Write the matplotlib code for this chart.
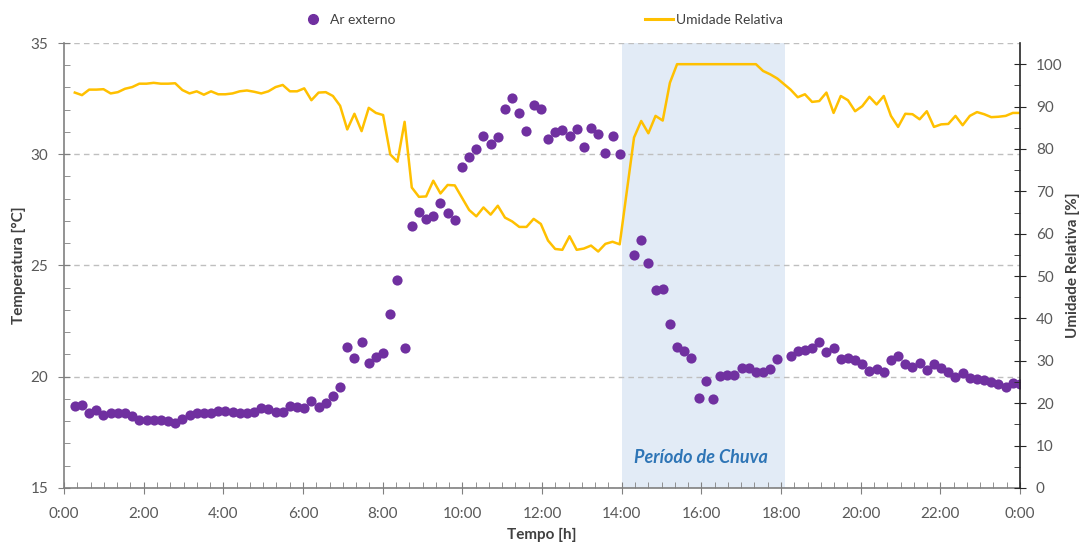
import matplotlib
matplotlib.use("Agg")
import matplotlib.pyplot as plt
from matplotlib.lines import Line2D

plt.rcParams['font.family'] = ['Lato', 'DejaVu Sans']

# sample times [h] (three runs of readings, with small gaps near 14:00 and 18:00)
tempo = [0.27, 0.45, 0.63, 0.81, 0.99, 1.17, 1.35, 1.53, 1.71, 1.89,
         2.07, 2.25, 2.43, 2.61, 2.79, 2.97, 3.15, 3.33, 3.51, 3.69,
         3.87, 4.05, 4.23, 4.41, 4.59, 4.77, 4.95, 5.13, 5.31, 5.49,
         5.67, 5.85, 6.03, 6.21, 6.39, 6.57, 6.75, 6.93, 7.11, 7.29,
         7.47, 7.65, 7.83, 8.01, 8.19, 8.37, 8.55, 8.73, 8.91, 9.09,
         9.27, 9.45, 9.63, 9.81, 9.99, 10.17, 10.35, 10.53, 10.71, 10.89,
         11.07, 11.25, 11.43, 11.61, 11.79, 11.97, 12.15, 12.33, 12.51, 12.69,
         12.87, 13.05, 13.23, 13.41, 13.59, 13.77, 13.95,
         14.31, 14.49, 14.67, 14.85, 15.03, 15.21, 15.39, 15.57, 15.75, 15.93,
         16.11, 16.29, 16.47, 16.65, 16.83, 17.01, 17.19, 17.37, 17.55, 17.73,
         17.91,
         18.24, 18.42, 18.60, 18.78, 18.96, 19.14, 19.32, 19.50, 19.68, 19.86,
         20.04, 20.22, 20.40, 20.58, 20.76, 20.94, 21.12, 21.30, 21.48, 21.66,
         21.84, 22.02, 22.20, 22.38, 22.56, 22.74, 22.92, 23.10, 23.28, 23.46,
         23.64, 23.82, 24.00]

# outside air temperature [°C]
ar_externo = [18.70, 18.71, 18.38, 18.51, 18.28, 18.38, 18.38, 18.38, 18.25, 18.06,
              18.06, 18.06, 18.06, 18.00, 17.94, 18.08, 18.28, 18.35, 18.35, 18.35,
              18.47, 18.47, 18.42, 18.35, 18.38, 18.42, 18.58, 18.55, 18.42, 18.42,
              18.68, 18.65, 18.58, 18.91, 18.62, 18.81, 19.15, 19.55, 21.35, 20.86,
              21.55, 20.63, 20.87, 21.05, 22.82, 24.35, 21.31, 26.79, 27.42, 27.08,
              27.22, 27.82, 27.34, 27.04, 29.41, 29.89, 30.25, 30.83, 30.45, 30.76,
              32.02, 32.53, 31.87, 31.04, 32.21, 32.02, 30.67, 31.01, 31.09, 30.83,
              31.15, 30.34, 31.19, 30.90, 30.04, 30.83, 30.00,
              25.47, 26.13, 25.13, 23.90, 23.96, 22.36, 21.35, 21.16, 20.86, 19.03,
              19.82, 18.99, 20.03, 20.06, 20.10, 20.41, 20.38, 20.20, 20.22, 20.33,
              20.80,
              20.93, 21.17, 21.20, 21.31, 21.55, 21.13, 21.31, 20.80, 20.83, 20.75,
              20.57, 20.27, 20.35, 20.20, 20.75, 20.95, 20.56, 20.46, 20.61, 20.30,
              20.57, 20.38, 20.20, 20.00, 20.18, 19.93, 19.90, 19.85, 19.78, 19.67,
              19.55, 19.70, 19.67]

# relative humidity [%]
umidade = [93.3, 92.7, 94.0, 94.0, 94.1, 93.1, 93.4, 94.2, 94.6, 95.4,
           95.4, 95.6, 95.4, 95.4, 95.5, 93.9, 93.1, 93.6, 92.8, 93.6,
           92.9, 92.9, 93.1, 93.6, 93.8, 93.5, 93.1, 93.6, 94.6, 95.1,
           93.6, 93.6, 94.3, 91.5, 93.3, 93.4, 92.5, 90.2, 84.6, 88.3,
           84.2, 89.7, 88.5, 88.0, 78.7, 77.0, 86.4, 70.9, 68.7, 68.8,
           72.5, 69.5, 71.5, 71.4, 68.5, 65.6, 64.1, 66.2, 64.5, 66.6,
           63.8, 62.9, 61.6, 61.6, 63.5, 62.3, 58.4, 56.4, 56.2, 59.4,
           56.2, 56.5, 57.2, 55.8, 57.6, 58.1, 57.5,
           82.7, 86.6, 83.7, 87.8, 86.7, 95.6, 100, 100, 100, 100,
           100, 100, 100, 100, 100, 100, 100, 100, 98.4, 97.6,
           96.6,
           94.0, 92.2, 92.9, 91.1, 91.3, 93.3, 88.5, 92.5, 91.5, 88.9,
           90.1, 92.3, 90.5, 92.5, 87.8, 85.2, 88.3, 88.2, 87.0, 88.9,
           85.2, 85.8, 85.9, 87.8, 85.6, 87.8, 88.7, 88.2, 87.5, 87.6,
           87.8, 88.5, 88.5]

chuva_inicio, chuva_fim = 14, 18.1
horas = list(range(0, 25, 2))
rotulos = ['%d:00' % (h % 24) for h in horas]

roxo = '#7030a0'
amarelo = '#ffc000'
cinza = '#595959'

fig = plt.figure(figsize=(10.82, 5.45), dpi=100)
ax = fig.add_axes([0.0592, 0.1046, 0.8835, 0.8165])
ax.axvspan(chuva_inicio, chuva_fim, color='#e2ebf6', zorder=0, lw=0)
ax.scatter(tempo, ar_externo, s=54, color=roxo, zorder=3, lw=0)
ax.text(16, 16.35, 'Período de Chuva', ha='center', va='center',
        fontsize=13, fontweight='bold', fontstyle='italic', color='#2e75b6')

ax.set_xlim(0, 24)
ax.set_ylim(15, 35)
ax.set_xticks(horas)
ax.set_xticklabels(rotulos)
ax.set_xticks([i / 3 for i in range(73)], minor=True)
ax.set_yticks([15, 20, 25, 30, 35])
ax.set_yticks(range(15, 36), minor=True)
ax.yaxis.grid(True, which='major', linestyle=(0, (4, 3)), color='#bfbfbf', lw=1)
ax.set_axisbelow(True)
ax.tick_params(which='major', direction='inout', length=9, color='#808080',
               labelcolor=cinza, labelsize=11)
ax.tick_params(axis='x', which='major', pad=9)
ax.tick_params(axis='y', which='major', pad=7)
ax.tick_params(which='minor', direction='in', length=4, color='#808080')
ax.spines['top'].set_visible(False)
ax.spines['right'].set_visible(False)
for s in ['left', 'bottom']:
    ax.spines[s].set_color('#808080')
    ax.spines[s].set_linewidth(1.2)
ax.set_xlabel('Tempo [h]', fontsize=11, fontweight='bold', color='#404040', labelpad=5)
ax.set_ylabel('Temperatura [°C]', fontsize=11, fontweight='bold', color='#404040', labelpad=3)

ax2 = ax.twinx()
ax2.plot(tempo, umidade, color=amarelo, lw=1.8, zorder=2)
ax2.set_ylim(0, 105)
ax2.set_yticks(range(0, 101, 10))
ax2.set_yticks(range(0, 101, 5), minor=True)
ax2.tick_params(which='major', direction='inout', length=9, color='#262626',
                labelcolor=cinza, labelsize=11, pad=7)
ax2.tick_params(which='minor', direction='in', length=4, color='#262626')
ax2.spines['top'].set_visible(False)
ax2.spines['left'].set_visible(False)
ax2.spines['bottom'].set_visible(False)
ax2.spines['right'].set_color('#262626')
ax2.spines['right'].set_linewidth(1.2)
ax2.set_ylabel('Umidade Relativa [%]', fontsize=11, fontweight='bold', color='#404040',
               rotation=90, labelpad=2)

handles = [Line2D([], [], ls='none', marker='o', markersize=7, color=roxo),
           Line2D([], [], color=amarelo, lw=2.2)]
fig.legend(handles, ['Ar externo', 'Umidade Relativa'], loc='center',
           bbox_to_anchor=(0.5, 0.963), ncol=2, frameon=False, fontsize=10,
           handlelength=2, handletextpad=0.2, columnspacing=18, labelcolor='#404040')

fig.savefig('out.png', dpi=100)
